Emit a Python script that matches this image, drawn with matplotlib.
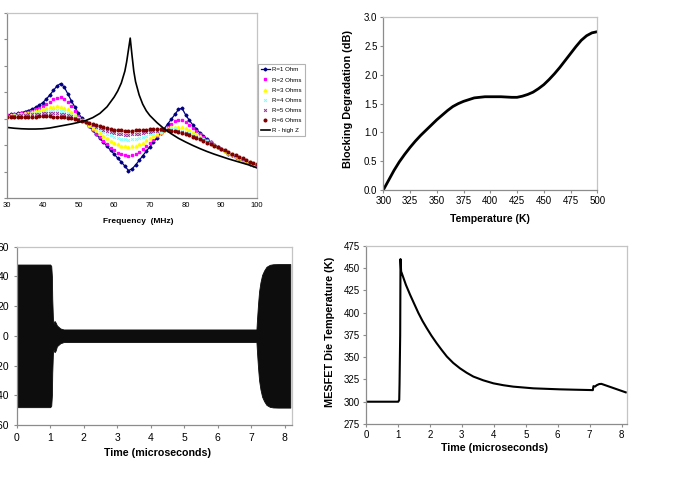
import matplotlib
matplotlib.use("Agg")
import matplotlib.pyplot as plt
import numpy as np

plt.rcParams['font.family'] = ['Liberation Sans', 'DejaVu Sans']

W, H = 677, 482

# ---------------- Panel 1: frequency response ----------------
freq = list(range(30, 101))
r1 = [3.15, 3.16, 3.18, 3.2, 3.23, 3.27, 3.31, 3.36, 3.43, 3.51, 3.61, 3.74, 3.9, 4.07, 4.24, 4.33,
      4.2, 3.95, 3.68, 3.44, 3.2, 3.02, 2.86, 2.71, 2.56, 2.41, 2.26, 2.11, 1.96, 1.81, 1.66, 1.51,
      1.36, 1.21, 1.04, 1.1, 1.25, 1.42, 1.6, 1.77, 1.94, 2.11, 2.28, 2.45, 2.62, 2.8, 2.98, 3.16,
      3.35, 3.4, 3.15, 2.95, 2.77, 2.61, 2.47, 2.34, 2.23, 2.12, 2.02, 1.93, 1.84, 1.76, 1.68, 1.61,
      1.54, 1.48, 1.42, 1.36, 1.3, 1.25, 1.2]
r2 = [3.13, 3.14, 3.16, 3.18, 3.2, 3.23, 3.26, 3.3, 3.35, 3.41, 3.48, 3.56, 3.65, 3.74, 3.8, 3.81,
      3.76, 3.64, 3.47, 3.29, 3.11, 2.97, 2.86, 2.72, 2.58, 2.44, 2.3, 2.16, 2.03, 1.91, 1.8, 1.71,
      1.65, 1.61, 1.6, 1.61, 1.66, 1.74, 1.84, 1.96, 2.08, 2.2, 2.33, 2.46, 2.58, 2.7, 2.81, 2.9,
      2.95, 2.95, 2.88, 2.77, 2.64, 2.52, 2.41, 2.3, 2.2, 2.11, 2.02, 1.94, 1.86, 1.78, 1.71, 1.64,
      1.57, 1.51, 1.45, 1.39, 1.33, 1.28, 1.22]
r3 = [3.12, 3.13, 3.14, 3.16, 3.18, 3.2, 3.22, 3.25, 3.28, 3.32, 3.36, 3.4, 3.43, 3.46, 3.47, 3.46,
      3.42, 3.35, 3.25, 3.14, 3.03, 2.94, 2.86, 2.76, 2.66, 2.56, 2.46, 2.36, 2.26, 2.17, 2.09, 2.03,
      1.98, 1.95, 1.94, 1.95, 1.98, 2.03, 2.1, 2.18, 2.26, 2.34, 2.42, 2.5, 2.57, 2.63, 2.67, 2.7,
      2.7, 2.68, 2.63, 2.56, 2.49, 2.41, 2.33, 2.25, 2.17, 2.09, 2.01, 1.94, 1.86, 1.79, 1.72, 1.65,
      1.59, 1.53, 1.47, 1.41, 1.35, 1.3, 1.24]
r4 = [3.11, 3.12, 3.13, 3.14, 3.16, 3.17, 3.19, 3.21, 3.23, 3.25, 3.27, 3.29, 3.31, 3.32, 3.32, 3.31,
      3.28, 3.23, 3.16, 3.09, 3.01, 2.94, 2.87, 2.79, 2.72, 2.64, 2.57, 2.5, 2.43, 2.37, 2.32, 2.27,
      2.24, 2.22, 2.21, 2.22, 2.24, 2.27, 2.31, 2.36, 2.41, 2.46, 2.5, 2.54, 2.57, 2.59, 2.6, 2.6,
      2.58, 2.55, 2.51, 2.46, 2.41, 2.35, 2.29, 2.22, 2.15, 2.08, 2.01, 1.94, 1.87, 1.8, 1.73, 1.66,
      1.6, 1.54, 1.48, 1.42, 1.36, 1.31, 1.25]
r5 = [3.1, 3.11, 3.12, 3.13, 3.14, 3.15, 3.16, 3.17, 3.18, 3.19, 3.2, 3.21, 3.21, 3.21, 3.2, 3.19,
      3.16, 3.13, 3.09, 3.04, 2.99, 2.93, 2.87, 2.82, 2.76, 2.7, 2.64, 2.59, 2.54, 2.5, 2.46, 2.43,
      2.41, 2.4, 2.4, 2.41, 2.42, 2.44, 2.46, 2.49, 2.51, 2.53, 2.55, 2.57, 2.57, 2.57, 2.56, 2.54,
      2.52, 2.49, 2.45, 2.41, 2.36, 2.31, 2.25, 2.19, 2.13, 2.07, 2.0, 1.94, 1.87, 1.8, 1.74, 1.67,
      1.61, 1.55, 1.49, 1.43, 1.37, 1.32, 1.26]
r6 = [3.05, 3.05, 3.06, 3.06, 3.07, 3.07, 3.08, 3.08, 3.08, 3.09, 3.09, 3.09, 3.09, 3.08, 3.08, 3.07,
      3.05, 3.03, 3.01, 2.98, 2.95, 2.91, 2.87, 2.83, 2.79, 2.75, 2.71, 2.67, 2.64, 2.61, 2.59, 2.57,
      2.56, 2.55, 2.55, 2.55, 2.56, 2.57, 2.58, 2.59, 2.6, 2.6, 2.6, 2.6, 2.59, 2.57, 2.55, 2.52,
      2.49, 2.45, 2.41, 2.37, 2.32, 2.27, 2.22, 2.16, 2.1, 2.04, 1.98, 1.92, 1.86, 1.8, 1.74, 1.68,
      1.62, 1.56, 1.5, 1.44, 1.38, 1.33, 1.27]
freq_hz = [30, 32, 34, 36, 38, 40, 42, 44, 46, 48, 50, 52, 54, 56, 58, 60, 61, 62, 63, 63.5, 64,
           64.5, 65, 65.5, 66, 67, 68, 69, 70, 72, 74, 76, 78, 80, 82, 84, 86, 88, 90, 92, 94, 96,
           98, 100]
rhz = [2.67, 2.64, 2.62, 2.61, 2.61, 2.62, 2.65, 2.7, 2.75, 2.8, 2.86, 2.93, 3.04, 3.2, 3.45, 3.82,
       4.05, 4.35, 4.8, 5.15, 5.6, 6.05, 5.4, 4.8, 4.4, 3.9, 3.55, 3.3, 3.12, 2.85, 2.62, 2.43, 2.26,
       2.12, 1.99, 1.87, 1.76, 1.66, 1.57, 1.48, 1.4, 1.32, 1.24, 1.14]
freq_ticks = [30, 40, 50, 60, 70, 80, 90, 100]
legend_labels = ["R=1 Ohm", "R=2 Ohms", "R=3 Ohms", "R=4 Ohms", "R=5 Ohms", "R=6 Ohms", "R - high Z"]

# ---------------- Panel 2: blocking degradation ----------------
temp_k = [300, 305, 310, 315, 320, 325, 330, 335, 340, 345, 350, 355, 360, 365, 370, 375, 380, 385,
          390, 395, 400, 410, 420, 425, 430, 435, 440, 445, 450, 455, 460, 465, 470, 475, 480, 485,
          490, 495, 500]
block_db = [0.0, 0.17, 0.34, 0.49, 0.62, 0.74, 0.85, 0.95, 1.04, 1.13, 1.22, 1.3, 1.38, 1.45, 1.5,
            1.54, 1.57, 1.6, 1.61, 1.62, 1.62, 1.62, 1.61, 1.61, 1.63, 1.66, 1.7, 1.76, 1.83, 1.92,
            2.02, 2.13, 2.25, 2.37, 2.49, 2.6, 2.68, 2.73, 2.75]

# ---------------- Panel 3: oscillation envelope ----------------
t_env = [0, 1.0, 1.03, 1.05, 1.06, 1.08, 1.1, 1.13, 1.16, 1.2, 1.25, 1.3, 1.4, 7.15, 7.17, 7.2,
         7.23, 7.27, 7.32, 7.38, 7.45, 7.55, 7.65, 7.8, 8.16]
env_hi = [48, 48, 47, 40, 25, 12, 8, 10, 9, 7, 6, 5, 4.3, 4.3, 12, 22, 30, 36, 41, 44, 46.5, 47.8,
          48.2, 48.3, 48.3]
env_lo = [-48, -48, -47, -40, -25, -12, -9, -11, -10, -7, -6, -5, -4.2, -4.2, -12, -22, -30, -36,
          -41, -44, -46.5, -47.8, -48.2, -48.3, -48.3]

# ---------------- Panel 4: die temperature ----------------
t_die = [0, 1.01, 1.04, 1.05, 1.07, 1.08, 1.1, 1.117, 1.25, 1.38, 1.5, 1.64, 1.77, 1.9, 2.05,
         2.21, 2.37, 2.53, 2.73, 2.94, 3.15, 3.36, 3.67, 3.99, 4.3, 4.61, 5.24, 6.05, 6.5, 7.0,
         7.1, 7.12, 7.17, 7.22, 7.3, 7.37, 7.45, 8.13]
die_k = [300, 300, 302, 320, 375, 460, 446, 444.5, 431, 420, 410.5, 399.5, 390.5, 382.6, 374,
         365.7, 358, 350.7, 343.5, 337.5, 332.5, 328.2, 324, 320.6, 318.5, 316.9, 315, 313.9,
         313.5, 313.1, 313, 317.5, 317, 318.5, 319.8, 320, 319, 310.5]

fig = plt.figure(figsize=(W / 100, H / 100), dpi=100)
fig.patch.set_facecolor('white')


def px_axes(l, t, r, b):
    return fig.add_axes([l / W, 1 - b / H, (r - l) / W, (b - t) / H])


def excel_style(ax, fs, tl=2.2, pad=2.0):
    for s in ['left', 'bottom']:
        ax.spines[s].set_color('#8c8c8c')
        ax.spines[s].set_linewidth(0.9)
    for s in ['top', 'right']:
        ax.spines[s].set_color('#c4c4c4')
        ax.spines[s].set_linewidth(0.9)
    ax.tick_params(direction='out', length=tl, width=0.8, color='#8c8c8c',
                   labelsize=fs, pad=pad, labelcolor='black')


# Panel 1
ax1 = px_axes(7, 13, 257, 198)
excel_style(ax1, 5.5)
ax1.plot(freq, r1, color='#000080', lw=0.9, marker='D', ms=1.5, label=legend_labels[0])
ax1.plot(freq, r2, color='#FF00FF', lw=0, marker='s', ms=1.9, label=legend_labels[1])
ax1.plot(freq, r3, color='#FFFF00', lw=0, marker='^', ms=2.1, label=legend_labels[2])
ax1.plot(freq, r4, color='#7FFFFF', lw=0, marker='x', ms=2.0, mew=0.7, label=legend_labels[3])
ax1.plot(freq, r5, color='#993399', lw=0, marker='x', ms=2.0, mew=0.7, label=legend_labels[4])
ax1.plot(freq, r6, color='#800000', lw=0, marker='o', ms=1.9, label=legend_labels[5])
ax1.plot(freq_hz, rhz, color='black', lw=1.2, label=legend_labels[6])
ax1.set_xlim(30, 100)
ax1.set_ylim(0, 7)
ax1.set_xticks(freq_ticks)
ax1.set_yticks(range(0, 8))
ax1.set_yticklabels([])
ax1.tick_params(axis='x', length=0, pad=3)
fig.text(138 / W, 1 - 222 / H, 'Frequency  (MHz)', ha='center', va='center',
         fontsize=6, fontweight='bold')
leg = ax1.legend(loc='upper left', bbox_to_anchor=(257.5 / W, 1 - 64 / H),
                 bbox_transform=fig.transFigure, fontsize=4.4, frameon=True, fancybox=False,
                 edgecolor='#a0a0a0', borderpad=0.5, labelspacing=0.8, handlelength=1.5,
                 handletextpad=0.4, borderaxespad=0)
leg.get_frame().set_linewidth(0.8)

# Panel 2
ax2 = px_axes(383.3, 17.3, 597.3, 190)
excel_style(ax2, 7)
ax2.plot(temp_k, block_db, color='black', lw=2.0)
ax2.set_xlim(300, 500)
ax2.set_ylim(0, 3)
ax2.set_xticks(range(300, 501, 25))
ax2.set_yticks(np.arange(0, 3.01, 0.5))
ax2.set_yticklabels([f'{v:.1f}' for v in np.arange(0, 3.01, 0.5)])
fig.text(490 / W, 1 - 219.3 / H, 'Temperature (K)', ha='center', va='center',
         fontsize=7.6, fontweight='bold')
fig.text(348.3 / W, 1 - 99 / H, 'Blocking Degradation (dB)', ha='center', va='center',
         rotation=90, fontsize=7.8, fontweight='bold')

# Panel 3
ax3 = px_axes(16.7, 246.7, 292.3, 425)
excel_style(ax3, 7.5, pad=3.5)
ax3.fill_between(t_env, env_lo, env_hi, color='#0d0d0d', lw=0.6, edgecolor='#0d0d0d')
ax3.set_xlim(0, 8.22)
ax3.set_ylim(-60, 60)
ax3.set_xticks(range(0, 9))
ax3.set_yticks(range(-60, 61, 20))
fig.text(157.5 / W, 1 - 453.3 / H, 'Time (microseconds)', ha='center', va='center',
         fontsize=7.7, fontweight='bold')

# Panel 4
ax4 = px_axes(366, 245.7, 626.7, 424)
excel_style(ax4, 7)
ax4.plot(t_die, die_k, color='black', lw=1.5)
ax4.set_xlim(0, 8.16)
ax4.set_ylim(275, 475)
ax4.set_xticks(range(0, 9))
ax4.set_yticks(range(275, 476, 25))
fig.text(494.7 / W, 1 - 448.3 / H, 'Time (microseconds)', ha='center', va='center',
         fontsize=7.7, fontweight='bold')
fig.text(330 / W, 1 - 331.7 / H, 'MESFET Die Temperature (K)', ha='center', va='center',
         rotation=90, fontsize=7.8, fontweight='bold')

fig.savefig('out.png', dpi=100, facecolor='white')
